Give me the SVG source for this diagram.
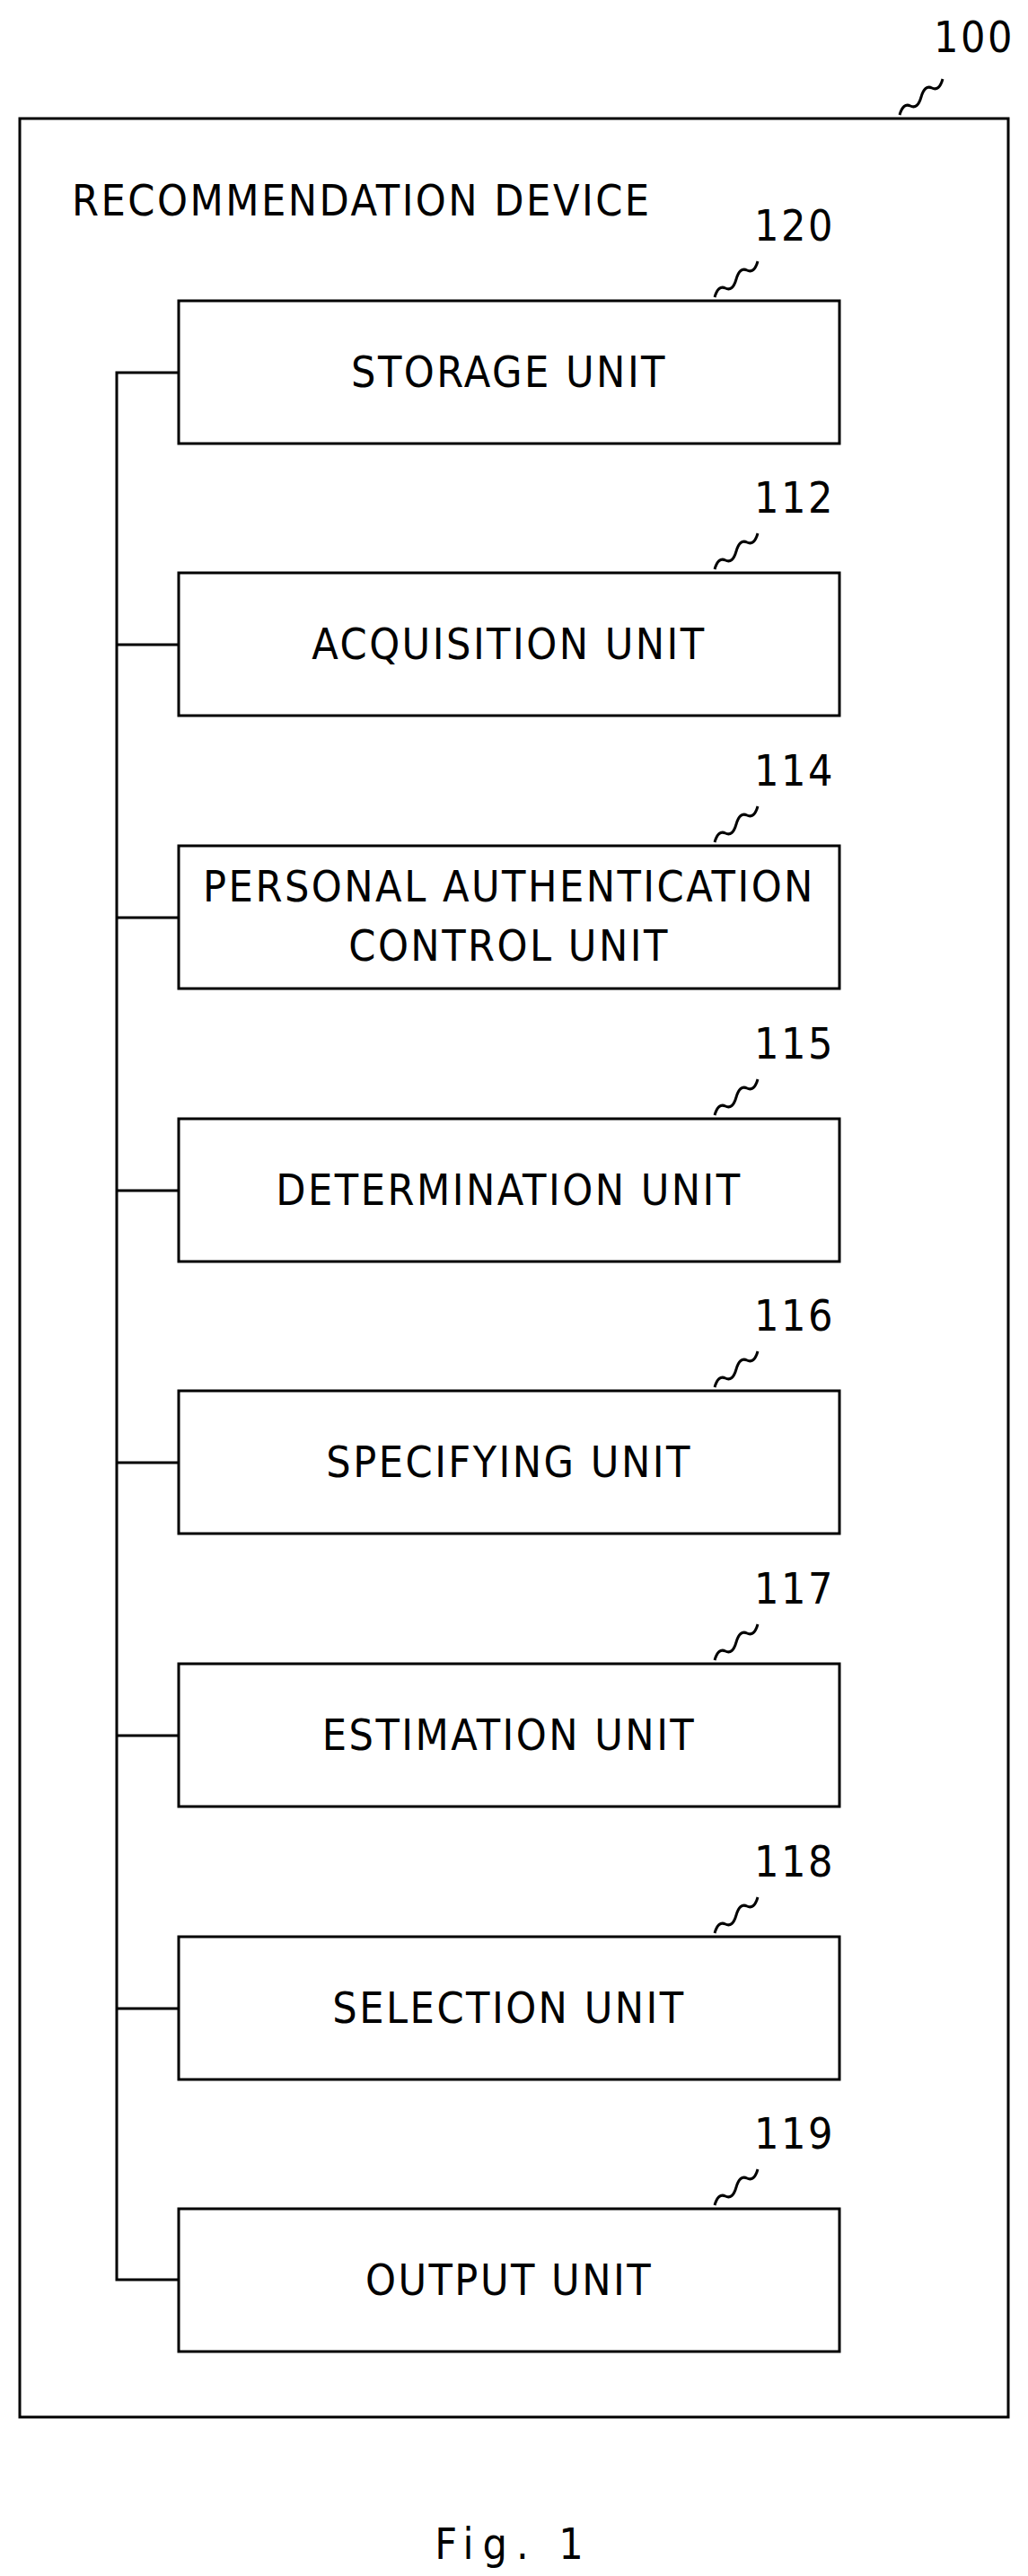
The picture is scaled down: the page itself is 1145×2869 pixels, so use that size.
<svg xmlns="http://www.w3.org/2000/svg" width="1145" height="2869" viewBox="0 0 1145 2869">
<style>
.b{fill:#fff;stroke:#000;stroke-width:3}
.l{fill:none;stroke:#000;stroke-width:3}
text{font-family:"DejaVu Sans Condensed","Liberation Sans Narrow",sans-serif;font-size:48px;fill:#000;letter-spacing:2.5px}
.c{text-anchor:middle}
</style>
<rect width="1145" height="2869" fill="#fff"/>
<g id="device">
<rect class="b" x="22" y="132" width="1101" height="2560"/>
<text x="80" y="240">RECOMMENDATION DEVICE</text>
<text x="1040" y="58" font-size="50">100</text>
<path class="l" d="M1002,128 q4,-14 12,-10 q8,4 12,-10 q4,-14 12,-10 q8,4 12,-10"/>
</g>
<g id="connectors">
<path class="l" d="M199,415 H130 V2539 H199 M130,718 H199 M130,1022 H199 M130,1326 H199 M130,1629 H199 M130,1933 H199 M130,2237 H199"/>
</g>
<g id="n120"><rect class="b" x="199" y="335" width="736" height="159"/><text class="c" x="567" y="431">STORAGE UNIT</text><text x="840" y="268" font-size="50">120</text><path class="l" d="M796,331 q4,-14 12,-10 q8,4 12,-10 q4,-14 12,-10 q8,4 12,-10"/></g>
<g id="n112"><rect class="b" x="199" y="638" width="736" height="159"/><text class="c" x="567" y="734">ACQUISITION UNIT</text><text x="840" y="571" font-size="50">112</text><path class="l" d="M796,634 q4,-14 12,-10 q8,4 12,-10 q4,-14 12,-10 q8,4 12,-10"/></g>
<g id="n114"><rect class="b" x="199" y="942" width="736" height="159"/><text class="c" x="567" y="1004">PERSONAL AUTHENTICATION</text><text class="c" x="567" y="1070">CONTROL UNIT</text><text x="840" y="875" font-size="50">114</text><path class="l" d="M796,938 q4,-14 12,-10 q8,4 12,-10 q4,-14 12,-10 q8,4 12,-10"/></g>
<g id="n115"><rect class="b" x="199" y="1246" width="736" height="159"/><text class="c" x="567" y="1342">DETERMINATION UNIT</text><text x="840" y="1179" font-size="50">115</text><path class="l" d="M796,1242 q4,-14 12,-10 q8,4 12,-10 q4,-14 12,-10 q8,4 12,-10"/></g>
<g id="n116"><rect class="b" x="199" y="1549" width="736" height="159"/><text class="c" x="567" y="1645">SPECIFYING UNIT</text><text x="840" y="1482" font-size="50">116</text><path class="l" d="M796,1545 q4,-14 12,-10 q8,4 12,-10 q4,-14 12,-10 q8,4 12,-10"/></g>
<g id="n117"><rect class="b" x="199" y="1853" width="736" height="159"/><text class="c" x="567" y="1949">ESTIMATION UNIT</text><text x="840" y="1786" font-size="50">117</text><path class="l" d="M796,1849 q4,-14 12,-10 q8,4 12,-10 q4,-14 12,-10 q8,4 12,-10"/></g>
<g id="n118"><rect class="b" x="199" y="2157" width="736" height="159"/><text class="c" x="567" y="2253">SELECTION UNIT</text><text x="840" y="2090" font-size="50">118</text><path class="l" d="M796,2153 q4,-14 12,-10 q8,4 12,-10 q4,-14 12,-10 q8,4 12,-10"/></g>
<g id="n119"><rect class="b" x="199" y="2460" width="736" height="159"/><text class="c" x="567" y="2556">OUTPUT UNIT</text><text x="840" y="2393" font-size="50">119</text><path class="l" d="M796,2456 q4,-14 12,-10 q8,4 12,-10 q4,-14 12,-10 q8,4 12,-10"/></g>
<text class="c" x="572" y="2850" font-size="104" style="letter-spacing:10px">Fig. 1</text>
</svg>
